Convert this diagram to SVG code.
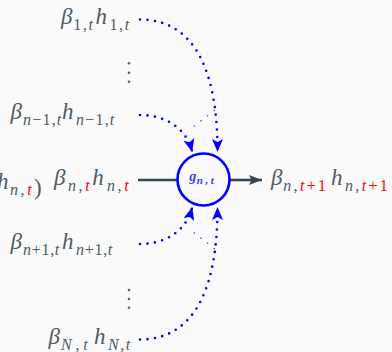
<svg xmlns="http://www.w3.org/2000/svg" width="392" height="352" viewBox="0 0 392 352">
<defs>
<style>
.m{font-family:"Liberation Serif","DejaVu Serif",serif;font-style:italic;font-size:23px;fill:#4d5a62}
.s{font-size:16px}
.u{font-style:normal}
.r{fill:#ff0000}
.dot{fill:none;stroke:#0000ff;stroke-width:2.6;stroke-linecap:round;stroke-dasharray:0 7.5}
.thin{fill:none;stroke:#0000ff;stroke-opacity:.75;stroke-width:1.6;stroke-linecap:round;stroke-dasharray:0 8.4}
.dk{fill:none;stroke:#37474f;stroke-width:2.6}
.vd{fill:#56636b}
</style>
<marker id="ab" markerUnits="userSpaceOnUse" markerWidth="14" markerHeight="12" refX="12" refY="5.5" orient="auto" overflow="visible">
<path d="M0,0 L13,5.5 L0,11 L3,5.5 z" fill="#0000ff"/>
</marker>
<marker id="ad" markerUnits="userSpaceOnUse" markerWidth="14" markerHeight="12" refX="13" refY="5" orient="auto" overflow="visible">
<path d="M0,0 L13,5 L0,10 L2.5,5 z" fill="#37474f"/>
</marker>
</defs>
<rect width="392" height="352" fill="#fafafa"/>

<g id="connectors">
<path class="dot" d="M140,19.5 C185,19.5 217.5,55 217.5,151" marker-end="url(#ab)"/>
<path class="dot" d="M140,115 C162,115 185,125 192,151" marker-end="url(#ab)"/>
<path class="dot" d="M140,244 C162,244 185,234 192,208" marker-end="url(#ab)"/>
<path class="dot" d="M140,339.5 C185,339.5 217.5,304 217.5,208" marker-end="url(#ab)"/>
<path class="thin" d="M194.3,126 L214.5,110.3"/>
<path class="thin" d="M194.3,233 L214.5,248.7"/>
<path class="dk" d="M138,180 L177,180"/>
<path class="dk" d="M230,180 L262,180" marker-end="url(#ad)"/>
</g>

<g id="node-g">
<circle cx="203.5" cy="179.5" r="26" fill="none" stroke="#0000ff" stroke-width="2.6"/>
<text font-family="Liberation Serif, DejaVu Serif, serif" font-style="italic" font-weight="bold" fill="#3d3df0"><tspan x="189.3" y="181" font-size="14">g</tspan><tspan x="196.7" y="184" font-size="11" letter-spacing="2.6">n,t</tspan></text>
</g>

<g id="node-b1">
<text class="m"><tspan x="61" y="24">β</tspan><tspan class="s" x="73.3" y="29.5" letter-spacing="1.6"><tspan class="u">1,</tspan>t</tspan><tspan x="95.5" y="24">h</tspan><tspan class="s" x="109.5" y="29.5" letter-spacing="1.6"><tspan class="u">1,</tspan>t</tspan></text>
</g>

<g id="vdots-top">
<circle class="vd" cx="129" cy="63.3" r="1.3"/>
<circle class="vd" cx="129" cy="72.7" r="1.3"/>
<circle class="vd" cx="129" cy="81.7" r="1.3"/>
</g>

<g id="node-bn-1">
<text class="m"><tspan x="10.5" y="119.3">β</tspan><tspan class="s" x="23" y="124.8" letter-spacing="1.2">n<tspan class="u">−1,</tspan>t</tspan><tspan x="62" y="119.3">h</tspan><tspan class="s" x="76" y="124.8" letter-spacing="1.2">n<tspan class="u">−1,</tspan>t</tspan></text>
</g>

<g id="node-bn">
<text class="m"><tspan x="54" y="185">β</tspan><tspan class="s" x="68" y="190.5" letter-spacing="2.6">n<tspan class="u">,</tspan><tspan class="r">t</tspan></tspan><tspan x="92.3" y="185">h</tspan><tspan class="s" x="107" y="190.5" letter-spacing="2.6">n<tspan class="u">,</tspan><tspan class="r">t</tspan></tspan></text>
</g>

<g id="node-partial">
<text class="m"><tspan x="-3" y="189.3">h</tspan><tspan class="s" x="10" y="195" letter-spacing="2.6">n<tspan class="u">,</tspan><tspan class="r">t</tspan></tspan><tspan class="u" x="34" y="194.5" font-size="23">)</tspan></text>
</g>

<g id="node-bn+1">
<text class="m"><tspan x="10.5" y="249.3">β</tspan><tspan class="s" x="23" y="254.8" letter-spacing="0.7">n<tspan class="u">+1,</tspan>t</tspan><tspan x="62" y="249.3">h</tspan><tspan class="s" x="76" y="254.8" letter-spacing="0.7">n<tspan class="u">+1,</tspan>t</tspan></text>
</g>

<g id="vdots-bottom">
<circle class="vd" cx="129" cy="290" r="1.3"/>
<circle class="vd" cx="129" cy="299" r="1.3"/>
<circle class="vd" cx="129" cy="307.7" r="1.3"/>
</g>

<g id="node-bN">
<text class="m"><tspan x="48.5" y="344">β</tspan><tspan class="s" x="61" y="349.5" letter-spacing="3.8">N<tspan class="u">,</tspan>t</tspan><tspan x="94" y="344">h</tspan><tspan class="s" x="108" y="349.5" letter-spacing="1.5">N<tspan class="u">,</tspan>t</tspan></text>
</g>

<g id="node-out">
<text class="m"><tspan x="271" y="185">β</tspan><tspan class="s" x="283.3" y="190.5" letter-spacing="2.3">n<tspan class="u">,</tspan><tspan class="r">t<tspan class="u">+1</tspan></tspan></tspan><tspan x="331" y="185">h</tspan><tspan class="s" x="345" y="190.5" letter-spacing="2.3">n<tspan class="u">,</tspan><tspan class="r">t<tspan class="u">+1</tspan></tspan></tspan></text>
</g>
</svg>
